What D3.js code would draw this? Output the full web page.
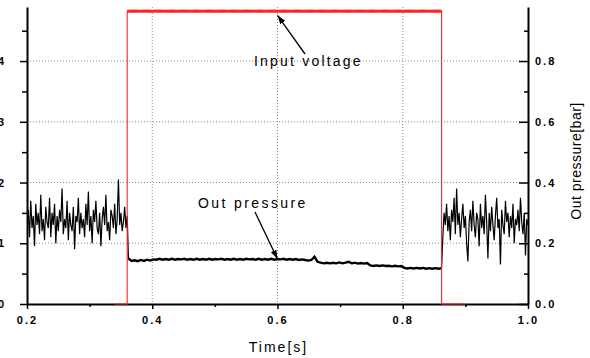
<!DOCTYPE html>
<html>
<head>
<meta charset="utf-8">
<script src="https://cdn.jsdelivr.net/npm/d3@7"></script>
<style>
  body { margin: 0; background: #fff; }
  svg { display: block; font-family: "Liberation Sans", Arial, sans-serif; }
  .tick text { font-size: 11px; font-weight: bold; letter-spacing: 2px; fill: #000; }
  .grid line { stroke: #8a8a8a; stroke-dasharray: 1,2; }
</style>
</head>
<body>
<script>
// time axis, left (voltage) axis, right (pressure) axis
var xTicks = [0.2, 0.4, 0.6, 0.8, 1.0];
var xMinor = [0.3, 0.5, 0.7, 0.9];
var leftTicks = [0, 1, 2, 3, 4];
var leftMinor = [0.5, 1.5, 2.5, 3.5, 4.5];
var rightTicks = [0.0, 0.2, 0.4, 0.6, 0.8];
var rightMinor = [0.1, 0.3, 0.5, 0.7, 0.9];

// input voltage: low from edge 0 to 1, high from 1 to 2, low from 2 to 3
var voltEdges = [0.34, 0.36, 0.862, 0.90];
var voltLow = 0;
var voltHigh = [4.82,4.825,4.82,4.825,4.82,4.825,4.82,4.825,4.82,4.825,4.82,4.825,4.82,4.825,4.82,4.825,4.82,4.825,
                4.82,4.825,4.82,4.825,4.82,4.825,4.82,4.825,4.82,4.825,4.82,4.825,4.82,4.825,4.82,4.825,4.82,4.825,
                4.82,4.825,4.82,4.825,4.82,4.825,4.82,4.825,4.82,4.825,4.82,4.825,4.82,4.825,4.82];

// out pressure [bar], three recorded segments
var pressTimes = [[0.200, 0.360], [0.362, 0.862], [0.864, 1.000]];
var pressA = [0.27,0.31,0.22,0.34,0.25,0.29,0.19,0.33,0.26,0.30,0.23,0.36,0.24,0.28,0.21,0.32,0.27,0.25,0.35,0.22,
              0.30,0.26,0.33,0.20,0.29,0.24,0.31,0.27,0.38,0.23,0.28,0.25,0.34,0.21,0.30,0.26,0.24,0.32,0.18,0.29,
              0.27,0.35,0.23,0.30,0.25,0.28,0.22,0.33,0.26,0.37,0.24,0.29,0.20,0.31,0.27,0.34,0.25,0.23,0.30,0.19,
              0.28,0.32,0.26,0.36,0.24,0.27,0.21,0.31,0.29,0.25,0.33,0.23,0.28,0.41,0.26,0.30,0.24,0.27,0.32,0.25,0.29];
var pressB = [0.150,
              0.142,0.144,0.141,0.145,0.142,0.146,0.143,0.147,
              0.146,0.149,0.146,0.148,0.146,0.149,0.146,0.148,0.147,0.149,0.146,0.148,0.146,0.149,0.146,0.148,
              0.146,0.149,0.146,0.148,0.147,0.149,0.146,0.148,0.146,0.149,0.146,0.148,0.146,0.149,0.147,0.148,
              0.146,0.149,0.146,0.148,0.146,0.149,0.146,0.148,0.147,0.149,0.146,0.148,0.146,0.148,0.145,0.147,
              0.145,0.143,0.145,0.156,0.139,
              0.136,0.134,0.136,0.134,0.136,0.134,0.137,0.134,0.136,0.139,0.134,0.136,0.133,0.135,0.133,0.135,
              0.127,0.125,0.127,0.125,0.127,0.125,0.126,0.124,0.126,0.124,0.125,
              0.119,0.117,0.119,0.117,0.119,0.117,0.119,0.116,0.118,0.116,0.118,0.116,0.118];
var pressC = [0.22,0.30,0.26,0.33,0.24,0.29,0.21,0.31,0.27,0.35,0.23,0.38,0.26,0.30,0.22,0.28,0.33,0.25,0.29,0.20,
              0.14,0.27,0.31,0.24,0.34,0.26,0.22,0.30,0.28,0.19,0.33,0.25,0.29,0.23,0.36,0.27,0.15,0.30,0.24,0.32,
              0.26,0.21,0.29,0.35,0.25,0.28,0.13,0.31,0.26,0.23,0.34,0.27,0.30,0.22,0.29,0.25,0.33,0.20,0.28,0.26,
              0.31,0.24,0.35,0.27,0.23,0.30,0.16,0.28,0.26];

var svgWidth = 590, svgHeight = 358;
var margin = {top: 7, right: 62, bottom: 54, left: 27};

var svg = d3.select("body").append("svg")
    .attr("width", svgWidth)
    .attr("height", svgHeight);

var x = d3.scaleLinear().domain([0.2, 1.0]).range([margin.left, svgWidth - margin.right]);
var yL = d3.scaleLinear().domain([0, 4.89]).range([svgHeight - margin.bottom, margin.top]);
var yR = d3.scaleLinear().domain([0, 0.978]).range([svgHeight - margin.bottom, margin.top]);

// spread samples evenly over a recorded time span
function spread(span, values) {
  return values.map(function(v, i) {
    return {t: span[0] + (span[1] - span[0]) * i / (values.length - 1), v: v};
  });
}

// grid
var grid = svg.append("g").attr("class", "grid");
grid.selectAll("line.gx").data(xTicks.slice(1, -1)).enter().append("line")
    .attr("x1", function(d) { return x(d); }).attr("x2", function(d) { return x(d); })
    .attr("y1", yL.range()[1]).attr("y2", yL.range()[0]);
grid.selectAll("line.gy").data(leftTicks.slice(1)).enter().append("line")
    .attr("y1", function(d) { return yL(d); }).attr("y2", function(d) { return yL(d); })
    .attr("x1", x.range()[0]).attr("x2", x.range()[1]);

svg.append("clipPath").attr("id", "plot")
  .append("rect")
    .attr("x", x.range()[0]).attr("y", yL.range()[1] - 4)
    .attr("width", x.range()[1] - x.range()[0])
    .attr("height", yL.range()[0] - yL.range()[1] + 6);

// out pressure
var pressLine = d3.line()
    .x(function(d) { return x(d.t); })
    .y(function(d) { return yR(d.v); });

var pressA_pts = spread(pressTimes[0], pressA);
var pressB_pts = spread(pressTimes[1], pressB);
var pressC_pts = spread(pressTimes[2], pressC);

var pressG = svg.append("g").attr("clip-path", "url(#plot)")
    .attr("fill", "none").attr("stroke", "#000");
pressG.append("path")
   .attr("d", pressLine(pressA_pts.concat(pressB_pts.slice(0, 1))))
   .attr("stroke-width", 1.2);
pressG.append("path")
   .attr("d", pressLine(pressB_pts))
   .attr("stroke-width", 2.4);
pressG.append("path")
   .attr("d", pressLine(pressB_pts.slice(-1).concat(pressC_pts)))
   .attr("stroke-width", 1.2);

// axes
svg.append("g")
    .attr("transform", "translate(0," + yL.range()[0] + ")")
    .call(d3.axisBottom(x).tickValues(xTicks).tickFormat(d3.format(".1f"))
      .tickSize(5).tickSizeOuter(0).tickPadding(7));
svg.append("g")
    .attr("transform", "translate(0," + yL.range()[0] + ")")
    .call(d3.axisBottom(x).tickValues(xMinor).tickFormat("").tickSize(3).tickSizeOuter(0))
    .select(".domain").remove();

svg.append("g")
    .attr("transform", "translate(" + x.range()[0] + ",0)")
    .call(d3.axisLeft(yL).tickValues(leftTicks).tickFormat(d3.format("d"))
      .tickSize(7).tickSizeOuter(0).tickPadding(14));
svg.append("g")
    .attr("transform", "translate(" + x.range()[0] + ",0)")
    .call(d3.axisLeft(yL).tickValues(leftMinor).tickFormat("").tickSize(5).tickSizeOuter(0))
    .select(".domain").remove();

svg.append("g")
    .attr("transform", "translate(" + x.range()[1] + ",0)")
    .call(d3.axisRight(yR).tickValues(rightTicks).tickFormat(d3.format(".1f"))
      .tickSize(-9).tickSizeOuter(0).tickPadding(7));
svg.append("g")
    .attr("transform", "translate(" + x.range()[1] + ",0)")
    .call(d3.axisRight(yR).tickValues(rightMinor).tickFormat("").tickSize(-4).tickSizeOuter(0))
    .select(".domain").remove();

svg.selectAll(".domain").attr("stroke", "#000").attr("stroke-width", 2);
svg.selectAll(".tick line").attr("stroke", "#000").attr("stroke-width", 1.5);
svg.selectAll(".tick text").attr("font-family", null).attr("font-size", null);

// input voltage, drawn over the axes
var voltLine = d3.line()
    .x(function(d) { return x(d.t); })
    .y(function(d) { return yL(d.v); });
var voltHighPts = spread([voltEdges[1], voltEdges[2]], voltHigh);
var voltData = [{t: voltEdges[0], v: voltLow}, {t: voltEdges[1], v: voltLow}]
  .concat(voltHighPts)
  .concat([{t: voltEdges[2], v: voltLow}, {t: voltEdges[3], v: voltLow}]);

var voltG = svg.append("g").attr("clip-path", "url(#plot)")
    .attr("fill", "none").attr("stroke", "#ff2424");
voltG.append("path")
   .attr("d", voltLine(voltData))
   .attr("stroke-width", 1.1);
voltG.append("path")
   .attr("d", voltLine(voltHighPts))
   .attr("stroke-width", 3);

// titles
svg.append("text")
   .attr("x", (x.range()[0] + x.range()[1]) / 2 + 1)
   .attr("y", 352)
   .attr("text-anchor", "middle")
   .style("font-size", "14px")
   .style("letter-spacing", "2px")
   .text("Time[s]");

svg.append("text")
   .attr("transform", "translate(581," + 161 + ") rotate(-90)")
   .attr("text-anchor", "middle")
   .style("font-size", "14px")
   .style("letter-spacing", "0.5px")
   .text("Out pressure[bar]");

// annotations
svg.append("defs").append("marker")
   .attr("id", "arrow")
   .attr("markerUnits", "userSpaceOnUse")
   .attr("markerWidth", 10).attr("markerHeight", 8)
   .attr("refX", 9).attr("refY", 3)
   .attr("orient", "auto")
  .append("path")
   .attr("d", "M0,0 L9,3 L0,6 Z")
   .attr("fill", "#000");

svg.append("line")
   .attr("x1", 305).attr("y1", 54)
   .attr("x2", x(0.6)).attr("y2", yL(4.82) + 4)
   .attr("stroke", "#000").attr("stroke-width", 1.3)
   .attr("marker-end", "url(#arrow)");
svg.append("text")
   .attr("x", 254).attr("y", 65.5)
   .style("font-size", "14px")
   .style("letter-spacing", "2.2px")
   .text("Input voltage");

svg.append("line")
   .attr("x1", 255).attr("y1", 212)
   .attr("x2", x(0.6)).attr("y2", yR(0.148))
   .attr("stroke", "#000").attr("stroke-width", 1.3)
   .attr("marker-end", "url(#arrow)");
svg.append("text")
   .attr("x", 198).attr("y", 207.5)
   .style("font-size", "14px")
   .style("letter-spacing", "2.4px")
   .text("Out pressure");
</script>
</body>
</html>
